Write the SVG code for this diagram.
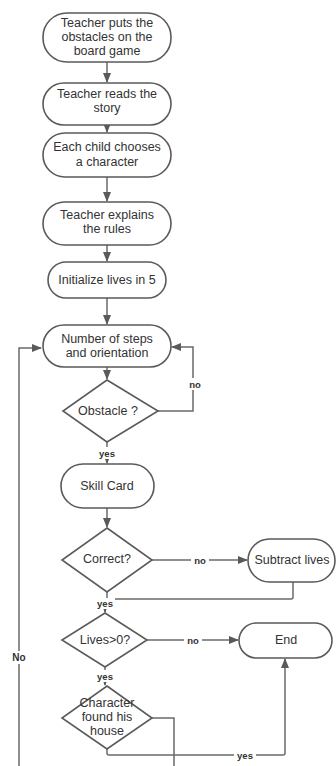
<svg xmlns="http://www.w3.org/2000/svg" width="336" height="766" viewBox="0 0 336 766">
<style>
.n{fill:#fff;stroke:#5a5a5a;stroke-width:1.6}
.t{font-family:"Liberation Sans",Arial,sans-serif;font-size:12.5px;fill:#333;text-anchor:middle;dominant-baseline:central}
.c{fill:none;stroke:#6a6a6a;stroke-width:1.5}
.l{font-family:"Liberation Sans",Arial,sans-serif;font-size:9.5px;font-weight:bold;fill:#333;text-anchor:middle;dominant-baseline:central}
.lb{fill:#fff}
</style>
<defs>
<marker id="a" markerWidth="10" markerHeight="8" refX="9" refY="4" orient="auto" markerUnits="userSpaceOnUse">
<path d="M0,0 L10,4 L0,8 Z" fill="#5a5a5a"/>
</marker>
</defs>
<rect width="336" height="766" fill="#fff"/>
<g id="connectors">
<path class="c" d="M107,62 V82" marker-end="url(#a)"/>
<path class="c" d="M107,125 V132" marker-end="url(#a)"/>
<path class="c" d="M107,177 V201" marker-end="url(#a)"/>
<path class="c" d="M107,245 V261" marker-end="url(#a)"/>
<path class="c" d="M107,298 V324" marker-end="url(#a)"/>
<path class="c" d="M107,367 V379" marker-end="url(#a)"/>
<path class="c" d="M158,411 H193 V347 H172" marker-end="url(#a)"/>
<path class="c" d="M107,442 V463" marker-end="url(#a)"/>
<path class="c" d="M107,508 V527" marker-end="url(#a)"/>
<path class="c" d="M152,560 H247" marker-end="url(#a)"/>
<path class="c" d="M293,582 V597 Q293,599 291,599 H113"/>
<path class="c" d="M107,592 V599"/>
<path class="c" d="M105,607 V612" marker-end="url(#a)"/>
<path class="c" d="M147,640 H238" marker-end="url(#a)"/>
<path class="c" d="M105,667 V685" marker-end="url(#a)"/>
<path class="c" d="M107,749 V753 Q107,755 109,755 H283 Q285,755 285,753 V659" marker-end="url(#a)"/>
<path class="c" d="M152,718 H174 V766"/>
<path class="c" d="M19,766 V348 H41" marker-end="url(#a)"/>
<rect class="lb" x="186" y="378" width="18" height="12"/>
<text class="l" x="195" y="384">no</text>
<rect class="lb" x="96" y="447" width="22" height="12"/>
<text class="l" x="107" y="453">yes</text>
<rect class="lb" x="191" y="554" width="18" height="12"/>
<text class="l" x="200" y="560">no</text>
<rect class="lb" x="95" y="598" width="20" height="11"/>
<text class="l" x="105" y="603">yes</text>
<rect class="lb" x="184" y="634" width="18" height="12"/>
<text class="l" x="193" y="640">no</text>
<rect class="lb" x="94" y="670" width="22" height="12"/>
<text class="l" x="105" y="676">yes</text>
<rect class="lb" x="234" y="749" width="22" height="12"/>
<text class="l" x="245" y="755">yes</text>
<rect class="lb" x="9" y="651" width="20" height="13"/>
<text class="l" x="19" y="657" style="font-size:10px">No</text>
</g>
<g id="n1"><rect class="n" x="43" y="13" width="128" height="49" rx="24"/>
<text class="t" x="107" y="23">Teacher puts the</text><text class="t" x="107" y="37">obstacles on the</text><text class="t" x="107" y="51">board game</text></g>
<g id="n2"><rect class="n" x="43" y="83" width="128" height="42" rx="21"/>
<text class="t" x="107" y="94">Teacher reads the</text><text class="t" x="107" y="108">story</text></g>
<g id="n3"><rect class="n" x="43" y="133" width="128" height="44" rx="22"/>
<text class="t" x="107" y="147">Each child chooses</text><text class="t" x="107" y="162">a character</text></g>
<g id="n4"><rect class="n" x="43" y="202" width="128" height="43" rx="21.5"/>
<text class="t" x="107" y="215">Teacher explains</text><text class="t" x="107" y="229">the rules</text></g>
<g id="n5"><rect class="n" x="48" y="262" width="118" height="36" rx="18"/>
<text class="t" x="107" y="280">Initialize lives in 5</text></g>
<g id="n6"><rect class="n" x="43" y="325" width="128" height="42" rx="21"/>
<text class="t" x="107" y="339">Number of steps</text><text class="t" x="107" y="353">and orientation</text></g>
<g id="d1"><path class="n" d="M107,380 L158,411 L107,442 L63,411 Z"/>
<text class="t" x="108" y="411">Obstacle ?</text></g>
<g id="n7"><rect class="n" x="61" y="464" width="93" height="44" rx="22"/>
<text class="t" x="107" y="486">Skill Card</text></g>
<g id="d2"><path class="n" d="M107,528 L152,560 L107,592 L62,560 Z"/>
<text class="t" x="107" y="559">Correct?</text></g>
<g id="n8"><rect class="n" x="248" y="539" width="87" height="43" rx="21.5"/>
<text class="t" x="292" y="560">Subtract lives</text></g>
<g id="d3"><path class="n" d="M105,613 L147,640 L105,667 L62,640 Z"/>
<text class="t" x="105" y="640">Lives&gt;0?</text></g>
<g id="n9"><rect class="n" x="239" y="623" width="93" height="35" rx="17.5"/>
<text class="t" x="286" y="640">End</text></g>
<g id="d4"><path class="n" d="M107,686 L152,718 L107,749 L62,718 Z"/>
<text class="t" x="107" y="703">Character</text><text class="t" x="107" y="717">found his</text><text class="t" x="107" y="731">house</text></g>
</svg>
